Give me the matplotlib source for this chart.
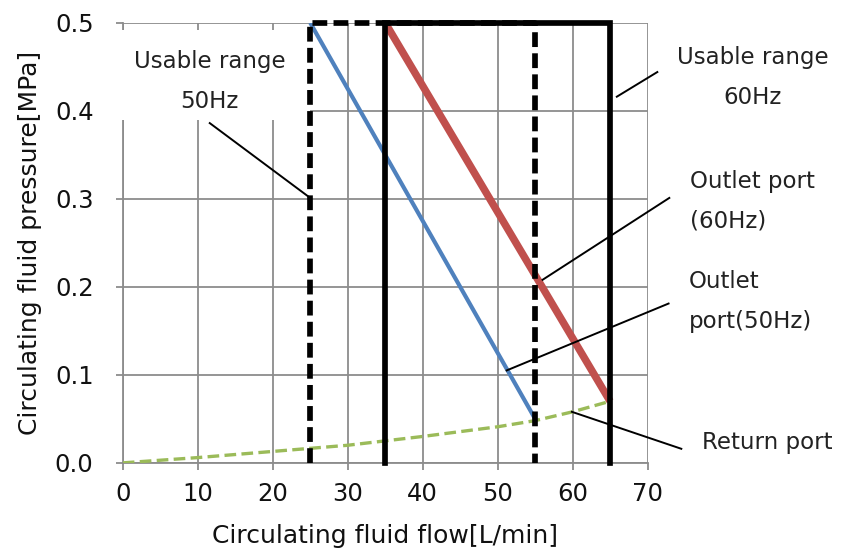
import matplotlib.pyplot as plt
from matplotlib.patches import Rectangle

# Pump curves
flow_50 = [25, 55]
pres_50 = [0.50, 0.05]
flow_60 = [35, 65]
pres_60 = [0.50, 0.07]
return_flow = [0, 10, 20, 30, 40, 50, 55, 60, 65]
return_pres = [0.0, 0.006, 0.013, 0.020, 0.030, 0.041, 0.048, 0.058, 0.070]

# Usable ranges (flow limits and max pressure)
range_50 = [25, 55]
range_60 = [35, 65]
max_pres = 0.5

x_ticks = [0, 10, 20, 30, 40, 50, 60, 70]
y_ticks = [0.0, 0.1, 0.2, 0.3, 0.4, 0.5]

grey = "#8c8c8c"
plt.rcParams["font.family"] = ["DejaVu Sans"]

fig = plt.figure(figsize=(8.41, 5.55), dpi=100)
ax = fig.add_axes([0.146, 0.166, 0.624, 0.793])

# Usable range boxes
ax.plot([range_50[0], range_50[0], range_50[1], range_50[1]], [0, max_pres, max_pres, 0],
        color="black", lw=4.1, ls=(0, (2.6, 1.1)), zorder=6, clip_on=False)
ax.plot([range_60[0], range_60[0], range_60[1], range_60[1]], [0, max_pres, max_pres, 0],
        color="black", lw=4.1, zorder=6, clip_on=False, solid_joinstyle="miter")

# Curves
ax.plot(flow_50, pres_50, color="#4f81bd", lw=3.0, zorder=4, solid_capstyle="butt")
ax.plot(flow_60, pres_60, color="#c0504d", lw=5.4, zorder=4, solid_capstyle="butt")
ax.plot(return_flow, return_pres, color="#9bbb59", lw=2.4, ls=(0, (3.5, 1.6)), zorder=5)

ax.set_xlim(0, 70)
ax.set_ylim(0, 0.5)
ax.set_xticks(x_ticks)
ax.set_yticks(y_ticks)
ax.set_yticklabels([f"{v:.1f}" for v in y_ticks])
ax.grid(True, color=grey, lw=1.3)
ax.set_axisbelow(True)
for side in ["top", "right"]:
    ax.spines[side].set_visible(False)
for side in ["left", "bottom"]:
    ax.spines[side].set_color(grey)
    ax.spines[side].set_linewidth(1.3)
ax.tick_params(axis="both", colors=grey, width=1.3, length=5, labelsize=17.5, labelcolor="#111111")
ax.tick_params(axis="y", pad=16)
ax.tick_params(axis="x", pad=9)
ax.set_xlabel("Circulating fluid flow[L/min]", fontsize=18, labelpad=13, color="#111111")
ax.set_ylabel("Circulating fluid pressure[MPa]", fontsize=18, labelpad=9, color="#111111")

# white label box behind the 50Hz note
ax.add_patch(Rectangle((-3.0, 0.39), 28.0, 0.102, fc="white", ec="none",
                       zorder=5.5, clip_on=False))

# Annotations
txt = dict(fontsize=16.5, color="#222222", linespacing=1.95, zorder=10, clip_on=False)
ax.text(11.6, 0.433, "Usable range\n50Hz", ha="center", va="center", **txt)
ax.text(84.0, 0.438, "Usable range\n60Hz", ha="center", va="center", **txt)
ax.text(75.6, 0.297, "Outlet port\n(60Hz)", ha="left", va="center", **txt)
ax.text(75.5, 0.183, "Outlet\nport(50Hz)", ha="left", va="center", **txt)
ax.text(77.2, 0.023, "Return port", ha="left", va="center", **txt)

leaders = [
    ([11.6, 25.0], [0.386, 0.301]),
    ([65.9, 71.3], [0.416, 0.444]),
    ([56.0, 72.9], [0.208, 0.301]),
    ([51.2, 72.8], [0.105, 0.181]),
    ([59.9, 74.5], [0.058, 0.016]),
]
for xs, ys in leaders:
    ax.plot(xs, ys, color="black", lw=1.4, zorder=7, clip_on=False)

fig.savefig("out.png", dpi=100)
